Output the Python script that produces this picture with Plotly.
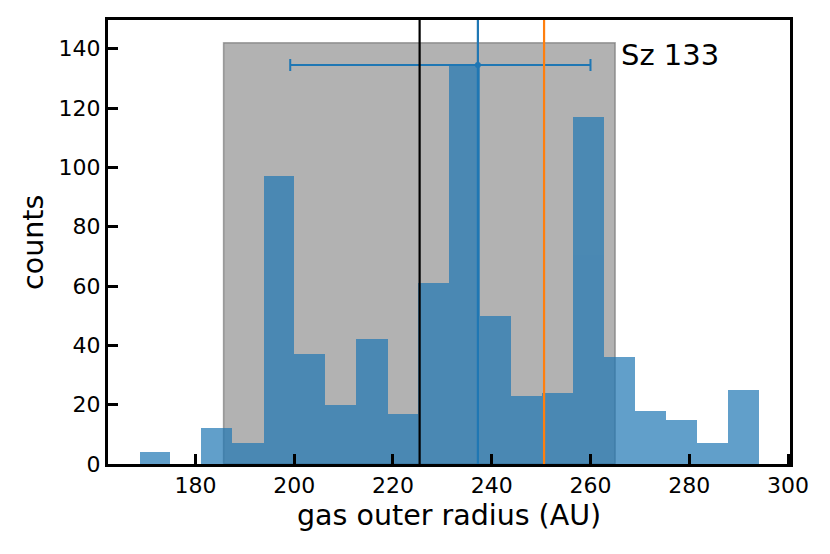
import plotly.graph_objects as go

# histogram of gas outer radius samples (Sz 133)
bin_edges = [168.7, 174.9, 181.2, 187.5, 193.8, 200.0, 206.3, 212.6, 218.9, 225.1,
             231.4, 237.7, 243.9, 250.2, 256.5, 262.8, 269.0, 275.3, 281.6, 287.9, 294.2]
counts = [4, 0, 12, 7, 97, 37, 20, 42, 17, 61, 135, 50, 23, 24, 117, 36, 18, 15, 7, 25]

# shaded range and reference lines
span_x = [185.7, 265.0]
span_top = 142
black_line = 225.4
blue_line = 237.2
orange_line = 250.6
err_center = [237.2]
err_y = [134.5]
err_minus = [38.0]
err_plus = [22.8]

centers = [(a + b) / 2 for a, b in zip(bin_edges[:-1], bin_edges[1:])]
widths = [b - a for a, b in zip(bin_edges[:-1], bin_edges[1:])]

fig = go.Figure()

fig.add_trace(go.Bar(
    x=centers, y=counts, width=widths,
    marker=dict(color="#1f77b4", line=dict(width=0)),
    opacity=0.7, showlegend=False,
))

fig.add_trace(go.Scatter(
    x=err_center, y=err_y, mode="markers",
    marker=dict(color="#1f77b4", size=6),
    error_x=dict(type="data", symmetric=False, array=err_plus, arrayminus=err_minus,
                 color="#1f77b4", thickness=2, width=6),
    showlegend=False,
))

# grey band below the bars
fig.add_shape(type="rect", xref="x", yref="y",
              x0=span_x[0], x1=span_x[1], y0=0, y1=span_top,
              fillcolor="rgba(0,0,0,0.3)", line=dict(color="rgba(0,0,0,0.3)", width=1.5),
              layer="below")

for xv, col in [(black_line, "black"), (blue_line, "#1f77b4"), (orange_line, "#ff7f0e")]:
    fig.add_shape(type="line", xref="x", yref="paper", x0=xv, x1=xv, y0=0, y1=1,
                  line=dict(color=col, width=2.2))

fig.add_annotation(x=265.8, y=138.0, xref="x", yref="y", text="Sz 133",
                   showarrow=False, xanchor="left", yanchor="middle",
                   font=dict(size=29, color="black"))

# axis titles placed as annotations
fig.add_annotation(x=0.5, y=-0.115, xref="paper", yref="paper", text="gas outer radius (AU)",
                   showarrow=False, xanchor="center", yanchor="middle",
                   font=dict(size=28.5, color="black"))
fig.add_annotation(x=-0.11, y=0.5, xref="paper", yref="paper", text="counts",
                   showarrow=False, xanchor="center", yanchor="middle", textangle=-90,
                   font=dict(size=28.5, color="black"))

fig.update_xaxes(
    range=[162.3, 300.4], tickvals=[180, 200, 220, 240, 260, 280, 300],
    ticks="inside", ticklen=10, tickwidth=3, tickcolor="black",
    showline=True, linecolor="black", linewidth=3, mirror=True,
    showgrid=False, zeroline=False, automargin=False,
    tickfont=dict(size=22, color="black"),
)
fig.update_yaxes(
    range=[0, 149.7], tickvals=[0, 20, 40, 60, 80, 100, 120, 140],
    ticks="inside", ticklen=10, tickwidth=3, tickcolor="black",
    showline=True, linecolor="black", linewidth=3, mirror=True,
    showgrid=False, zeroline=False, automargin=False,
    tickfont=dict(size=22, color="black"),
)

fig.update_layout(
    width=830, height=554,
    margin=dict(l=108, r=40, t=20, b=90),
    plot_bgcolor="white", paper_bgcolor="white",
    font=dict(family="DejaVu Sans", color="black"),
    bargap=0,
)

# drop the default page margin so the figure sits at the window corner
fig.write_html("out.html", config={"displayModeBar": False},
               post_script="document.body.style.margin='0px';")
